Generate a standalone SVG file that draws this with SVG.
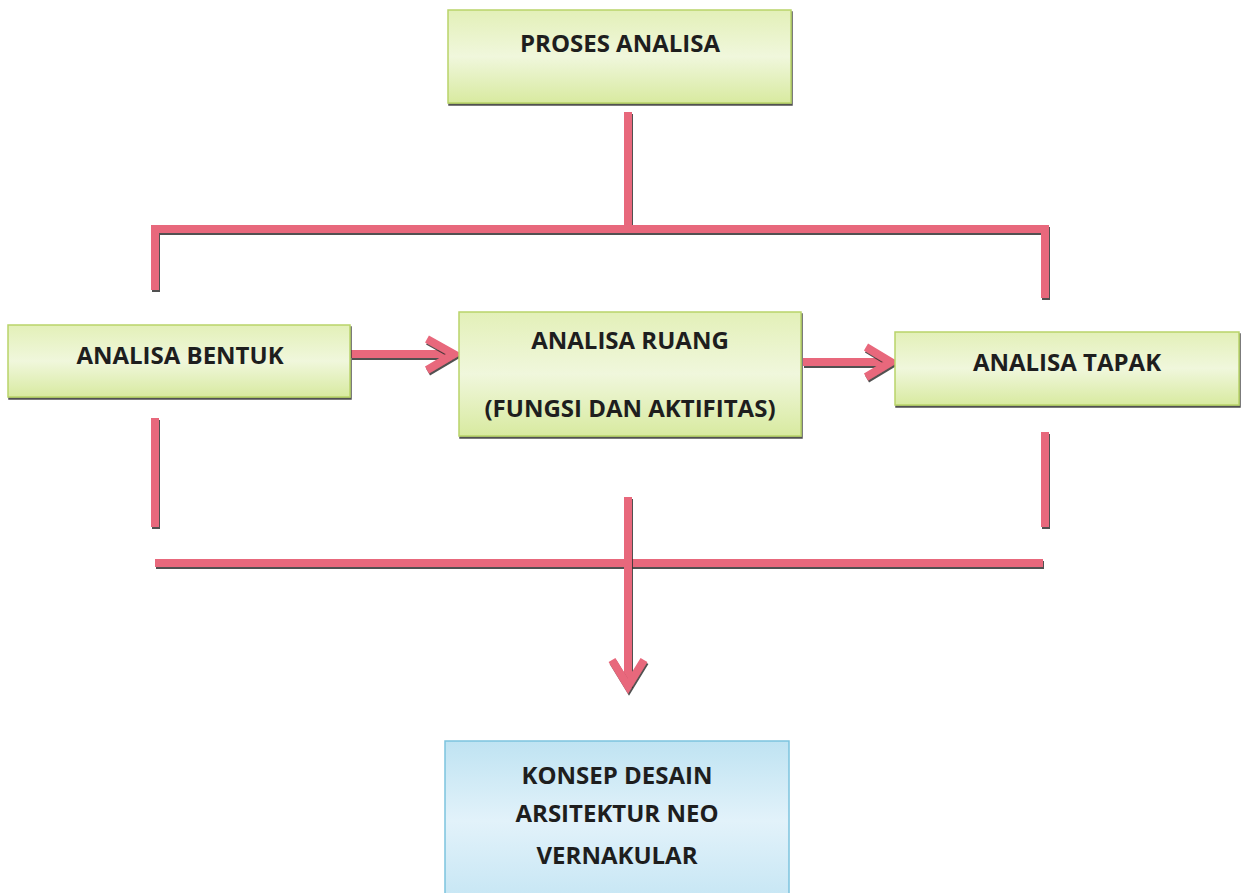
<svg xmlns="http://www.w3.org/2000/svg" width="1245" height="893" viewBox="0 0 1245 893">
<defs>
<linearGradient id="g" x1="0" y1="0" x2="0" y2="1">
<stop offset="0" stop-color="#e3f0b8"/>
<stop offset="0.5" stop-color="#f0f7dc"/>
<stop offset="1" stop-color="#d8eaa0"/>
</linearGradient>
<linearGradient id="b" x1="0" y1="0" x2="0" y2="1">
<stop offset="0" stop-color="#bfe3f2"/>
<stop offset="0.5" stop-color="#e2f2fa"/>
<stop offset="1" stop-color="#c6e6f4"/>
</linearGradient>
<filter id="sh" filterUnits="userSpaceOnUse" x="0" y="0" width="1245" height="893">
<feDropShadow dx="1" dy="2" stdDeviation="0.6" flood-color="#333" flood-opacity="0.85"/>
</filter>
</defs>
<style>
.box{fill:url(#g);stroke:#b9d36a;stroke-width:1.5;filter:url(#sh)}
.bbox{fill:url(#b);stroke:#7cc3de;stroke-width:1.5}
.t{font-family:"Open Sans","Liberation Sans",sans-serif;font-weight:bold;font-size:24px;fill:#1e1e1e;text-anchor:middle}
.ln{stroke:#e8687c;stroke-width:8;fill:none;filter:url(#sh)}
.ar{stroke:#e8687c;stroke-width:8;fill:none;stroke-linejoin:miter;filter:url(#sh)}
</style>
<rect width="1245" height="893" fill="#ffffff"/>
<g id="connectors">
<path class="ln" d="M628 112 V228"/>
<path class="ln" d="M155 290 V229 H1045 V298"/>
<path class="ln" d="M155 418 V527"/>
<path class="ln" d="M1045 432 V527"/>
<path class="ln" d="M155 563 H1043"/>
<path class="ln" d="M628 497 V686"/>
<path class="ar" d="M612 660 L628 686 L644 660"/>
<path class="ln" d="M351 354 H452"/>
<path class="ar" d="M427 339 L454 354 L427 370"/>
<path class="ln" d="M803 362 H888"/>
<path class="ar" d="M866 347 L891 362 L866 377"/>
</g>
<g id="proses-analisa">
<rect class="box" x="448" y="10" width="343" height="93"/>
<text class="t" x="620" y="52">PROSES ANALISA</text>
</g>
<g id="analisa-bentuk">
<rect class="box" x="8" y="325" width="342" height="72"/>
<text class="t" x="180" y="364">ANALISA BENTUK</text>
</g>
<g id="analisa-ruang">
<rect class="box" x="459" y="312" width="342" height="124"/>
<text class="t" x="630" y="349">ANALISA RUANG</text>
<text class="t" x="630" y="417">(FUNGSI DAN AKTIFITAS)</text>
</g>
<g id="analisa-tapak">
<rect class="box" x="895" y="332" width="344" height="73"/>
<text class="t" x="1067" y="371">ANALISA TAPAK</text>
</g>
<g id="konsep-desain">
<rect class="bbox" x="445" y="741" width="344" height="160"/>
<text class="t" x="617" y="784">KONSEP DESAIN</text>
<text class="t" x="617" y="822">ARSITEKTUR NEO</text>
<text class="t" x="617" y="864">VERNAKULAR</text>
</g>
</svg>
